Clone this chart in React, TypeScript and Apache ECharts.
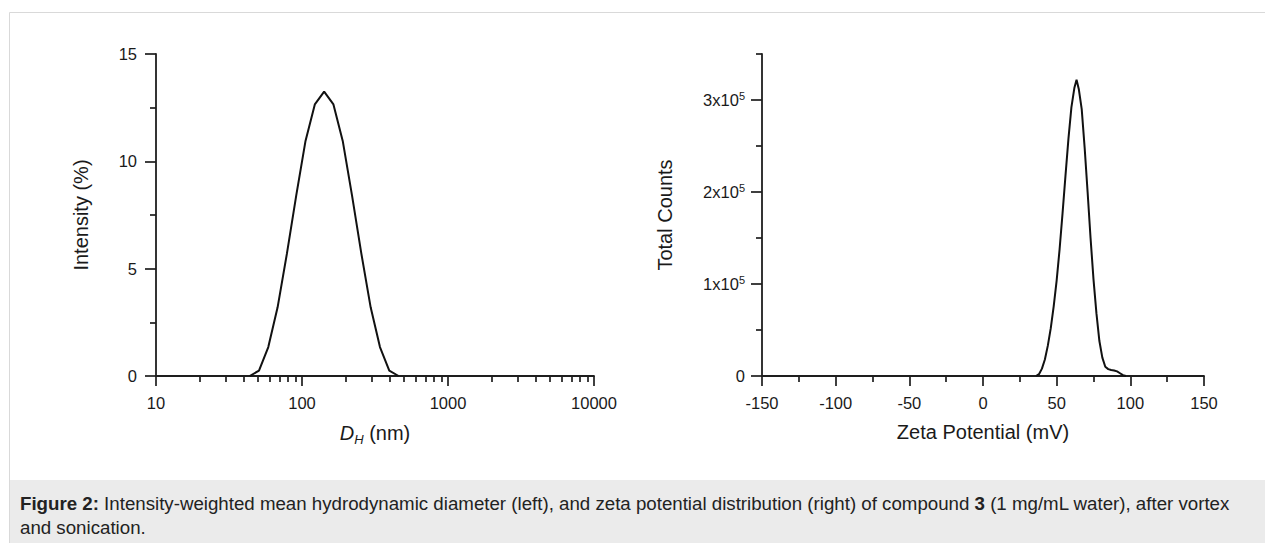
import React, { useEffect, useRef } from "react";
import * as echarts from "echarts";

// Left panel: DLS intensity distribution
const diameters = [43.82, 50.75, 58.77, 68.06, 78.82, 91.28, 105.7, 122.4, 141.8, 164.2, 190.1, 220.2, 255.0, 295.3, 342.0, 396.1, 458.7];
const intensity = [0, 0.25, 1.35, 3.2, 5.7, 8.4, 10.95, 12.65, 13.25, 12.65, 10.95, 8.4, 5.7, 3.2, 1.35, 0.25, 0];
const sizeMajorTicks = [10, 100, 1000, 10000];
const sizeMinorTicks = [20, 30, 40, 50, 60, 70, 80, 90, 200, 300, 400, 500, 600, 700, 800, 900, 2000, 3000, 4000, 5000, 6000, 7000, 8000, 9000];

// Right panel: zeta potential distribution
const zeta = [36, 38, 40, 42, 44, 46, 48, 50, 52, 54, 56, 58, 60, 62, 63.5, 65, 67, 69, 71, 73, 75, 77, 79, 81, 83, 85, 87, 89, 91, 93, 95, 97];
const counts = [0, 2000, 8000, 18000, 33000, 52000, 76000, 104000, 138000, 177000, 218000, 258000, 292000, 313000, 322000, 312000, 290000, 248000, 200000, 150000, 105000, 68000, 38000, 20000, 10000, 7500, 6500, 6000, 5000, 3000, 1000, 0];
const countMajorTicks = [0, 100000, 200000, 300000];
const countMinorTicks = [50000, 150000, 250000, 350000];

const FONT = "'Liberation Sans', Arial, Helvetica, sans-serif";
const INK = "#1a1a1a";
const AXIS = "#1e1e1e";

export default function App() {
  const ref = useRef<HTMLDivElement>(null);
  useEffect(() => {
    if (!ref.current) return;
    const chart = echarts.init(ref.current, undefined, { renderer: "svg" });
    const axisLine = { show: true, onZero: false, lineStyle: { color: AXIS, width: 1.8 } };
    const tickLine = { color: AXIS, width: 1.7 };
    const labelStyle = { color: INK, fontSize: 16.5, fontFamily: FONT };
    const nameStyle = { color: INK, fontSize: 20, fontFamily: FONT };
    const minorAxisBase = {
      axisLine: { show: false, onZero: false },
      axisLabel: { show: false },
      splitLine: { show: false },
    };
    const option: any = {
      animation: false,
      backgroundColor: "#fff",
      grid: [
        { left: 156, top: 54, width: 438, height: 322 },
        { left: 762, top: 54, width: 442, height: 322 },
      ],
      xAxis: [
        {
          gridIndex: 0, type: "log", logBase: 10, min: 10, max: 10000, position: "bottom",
          axisLine,
          axisTick: { show: true, customValues: sizeMajorTicks, length: 10, lineStyle: tickLine },
          axisLabel: { ...labelStyle, margin: 18, customValues: sizeMajorTicks, formatter: (v: number) => String(Math.round(v)) },
          splitLine: { show: false },
          name: "{i|D}{sub|H} (nm)",
          nameLocation: "middle", nameGap: 44,
          nameTextStyle: {
            ...nameStyle,
            rich: {
              i: { fontStyle: "italic", fontSize: 20, fontFamily: FONT, color: INK, lineHeight: 26 },
              sub: { fontStyle: "italic", fontSize: 13, fontFamily: FONT, color: INK, lineHeight: 8, verticalAlign: "bottom" },
            },
          },
        },
        {
          gridIndex: 0, type: "log", logBase: 10, min: 10, max: 10000, position: "bottom",
          ...minorAxisBase,
          axisTick: { show: true, customValues: sizeMinorTicks, length: 6, lineStyle: tickLine },
        },
        {
          gridIndex: 1, type: "value", min: -150, max: 150, interval: 50, position: "bottom",
          axisLine,
          axisTick: { show: true, length: 10, lineStyle: tickLine },
          minorTick: { show: true, splitNumber: 2, length: 6, lineStyle: tickLine },
          axisLabel: { ...labelStyle, margin: 18 },
          splitLine: { show: false },
          name: "Zeta Potential (mV)",
          nameLocation: "middle", nameGap: 46,
          nameTextStyle: nameStyle,
        },
      ],
      yAxis: [
        {
          gridIndex: 0, type: "value", min: 0, max: 15, interval: 5, position: "left",
          axisLine,
          axisTick: { show: true, length: 11, lineStyle: tickLine },
          minorTick: { show: true, splitNumber: 2, length: 6, lineStyle: tickLine },
          axisLabel: { ...labelStyle, margin: 19 },
          splitLine: { show: false },
          name: "Intensity (%)",
          nameLocation: "middle", nameGap: 65,
          nameTextStyle: nameStyle,
        },
        {
          gridIndex: 1, type: "value", min: 0, max: 350000, position: "left",
          axisLine,
          axisTick: { show: true, customValues: countMajorTicks, length: 11, lineStyle: tickLine },
          axisLabel: {
            ...labelStyle, margin: 17, customValues: countMajorTicks,
            formatter: (v: number) => (v === 0 ? "{m|0}" : `{m|${Math.round(v / 100000)}x10}{s|5}`),
            rich: {
              m: { fontSize: 16.5, fontFamily: FONT, color: INK, lineHeight: 20 },
              s: { fontSize: 11, fontFamily: FONT, color: INK, lineHeight: 10, verticalAlign: "top" },
            },
          },
          splitLine: { show: false },
          name: "Total Counts",
          nameLocation: "middle", nameGap: 87,
          nameTextStyle: nameStyle,
        },
        {
          gridIndex: 1, type: "value", min: 0, max: 350000, position: "left",
          ...minorAxisBase,
          axisTick: { show: true, customValues: countMinorTicks, length: 6, lineStyle: tickLine },
        },
      ],
      series: [
        {
          type: "line", xAxisIndex: 0, yAxisIndex: 0,
          data: diameters.map((d, i) => [d, intensity[i]]),
          showSymbol: false, symbol: "none",
          lineStyle: { color: "#111", width: 2 },
          z: 5,
        },
        {
          type: "line", xAxisIndex: 2, yAxisIndex: 1,
          data: zeta.map((z, i) => [z, counts[i]]),
          showSymbol: false, symbol: "none",
          lineStyle: { color: "#111", width: 2 },
          z: 5,
        },
      ],
      graphic: [
        {
          type: "rect", z: 0,
          shape: { x: 9, y: 480, width: 1260, height: 70 },
          style: { fill: "#ebebeb" },
        },
        {
          type: "rect", z: 1,
          shape: { x: 9.5, y: 12.5, width: 1300, height: 600 },
          style: { fill: "none", stroke: "#d9d9d9", lineWidth: 1 },
        },
        {
          type: "text", z: 2, x: 20, y: 491,
          style: {
            text: "{b|Figure 2:} Intensity-weighted mean hydrodynamic diameter (left), and zeta potential distribution (right) of compound {b|3} (1 mg/mL water), after vortex\nand sonication.",
            fontSize: 18.7, fontFamily: FONT, fill: "#222", lineHeight: 24,
            rich: {
              b: { fontWeight: "bold", fontSize: 18.7, fontFamily: FONT, fill: "#222", lineHeight: 24 },
            },
          },
        },
      ],
    };
    chart.setOption(option);
    return () => chart.dispose();
  }, []);
  return (
    <div
      ref={ref}
      style={{ position: "absolute", left: 0, top: 0, width: 1265, height: 543 }}
    />
  );
}
